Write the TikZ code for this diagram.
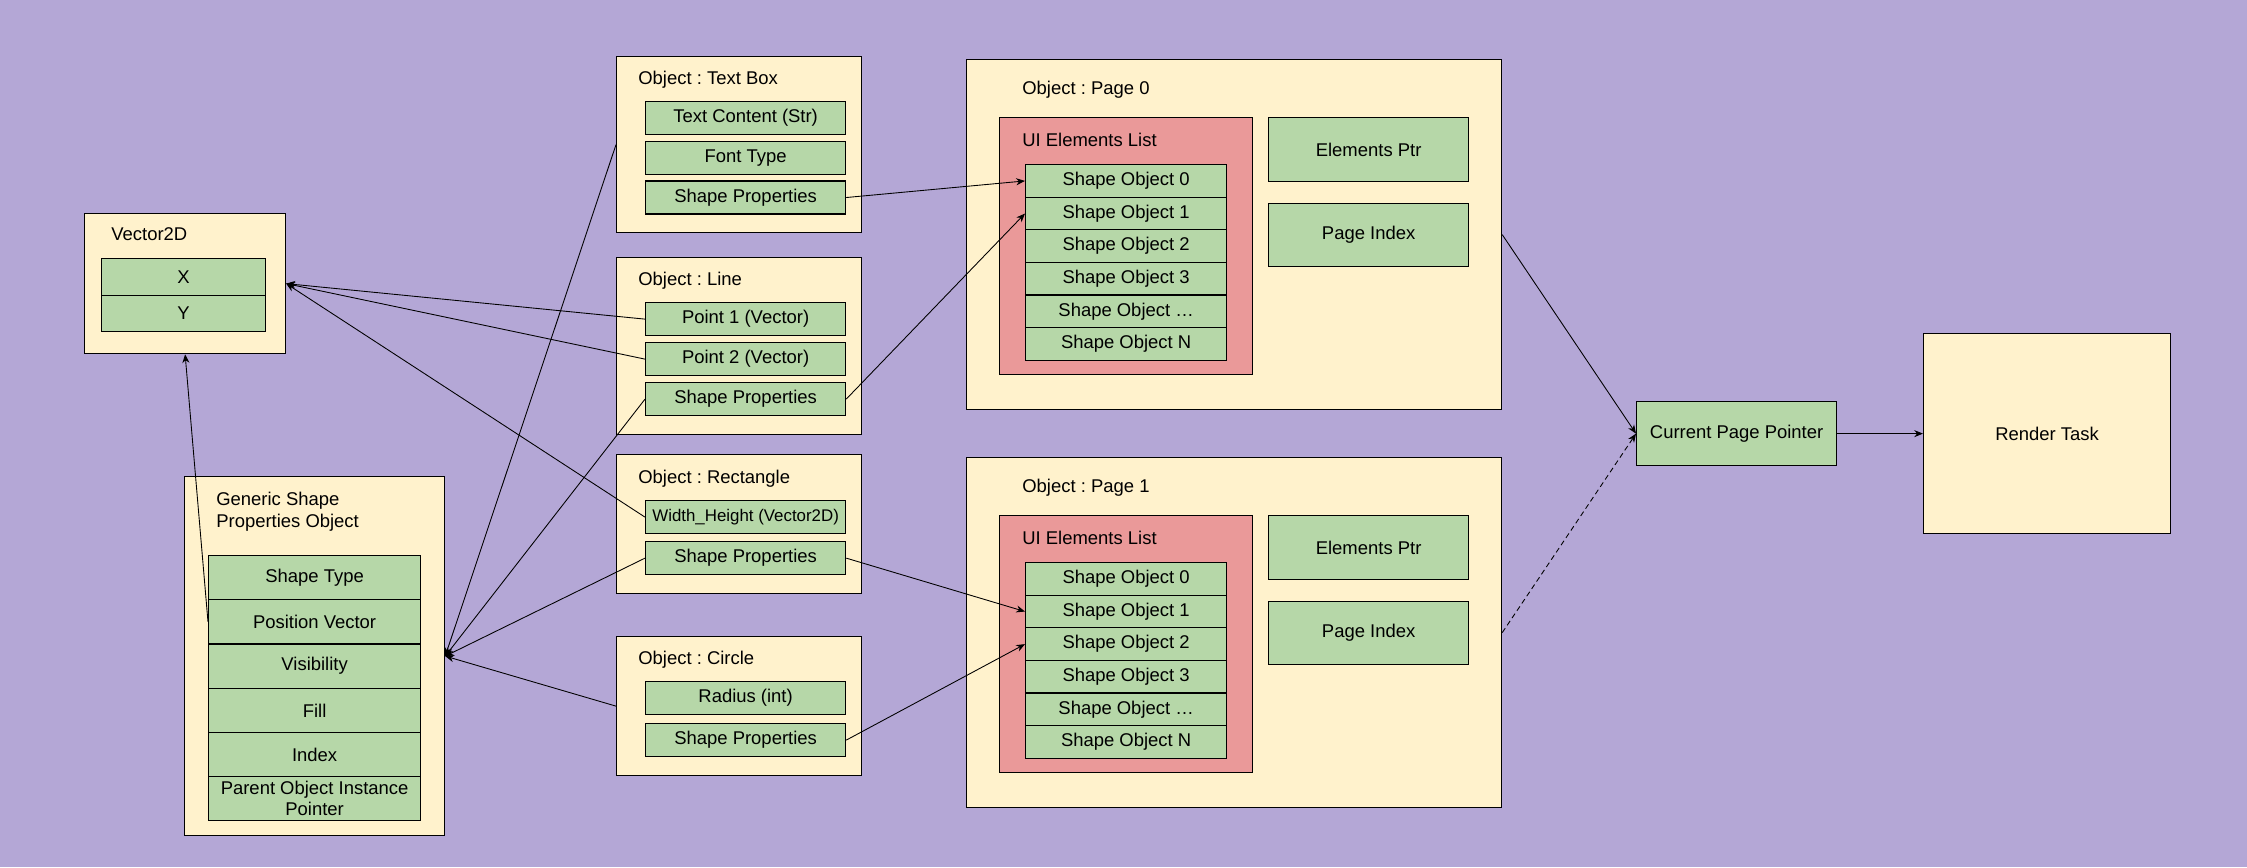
\documentclass[tikz,border=0pt]{standalone}
\usepackage{fontspec}
\setmainfont{Liberation Sans}
\usetikzlibrary{arrows.meta}
\frenchspacing

\definecolor{bgpurple}{HTML}{B4A7D6}
\definecolor{boxyellow}{HTML}{FFF2CC}
\definecolor{fieldgreen}{HTML}{B6D7A8}
\definecolor{listred}{HTML}{EA9999}

\tikzset{
  sz/.style 2 args={minimum width=#1*0.02cm, minimum height=#2*0.02cm},
  holder/.style={draw, fill=boxyellow, line width=0.7pt, inner sep=0pt, anchor=north west},
  listbox/.style={draw, fill=listred, line width=0.7pt, inner sep=0pt, anchor=north west},
  field/.style={draw, fill=fieldgreen, line width=0.7pt, inner sep=0pt, anchor=north west, align=center},
  title/.style={anchor=west, inner sep=0pt},
  link/.style={line width=0.5pt, -{Stealth[length=5pt,width=4pt]}},
}

\begin{document}
\begin{tikzpicture}[x=0.02cm, y=-0.02cm, font=\fontsize{10.5}{12}\selectfont]
    \useasboundingbox (0,0) rectangle (2247,867);
    \fill[bgpurple] (0,0) rectangle (2247,867);

    % Vector2D
    \node[holder, sz={201}{140}] (vector) at (84,213) {};
    \node[title] (vectortitle) at (111,234) {Vector2D};
    \node[field, sz={164}{36.5}] (vx) at (101,258) {X};
    \node[field, sz={164}{36.5}] (vy) at (101,294.5) {Y};

    % Generic shape properties
    \node[holder, sz={260}{359}] (generic) at (184,476) {};
    \node[title, align=left, font=\fontsize{10.5}{12.5}\selectfont] (generictitle) at (216,512) {Generic Shape\\Properties Object};
    \foreach \i/\txt in {0/Shape Type,1/Position Vector,2/Visibility,3/Fill,4/Index,5/{Parent Object Instance\\Pointer}} {
        \node[field, sz={212}{44.2}] (gs\i) at (208,555+\i*44.2) {\txt};
    }

    % Text box
    \node[holder, sz={245}{176}] (textbox) at (616,56) {};
    \node[title] (textboxtitle) at (638,80) {Object : Text Box};
    \foreach \i/\txt in {0/Text Content (Str),1/Font Type,2/Shape Properties} {
        \node[field, sz={200}{33}] (tb\i) at (645,101+\i*39.7) {\txt};
    }

    % Line
    \node[holder, sz={245}{177}] (lineobj) at (616,257) {};
    \node[title] (linetitle) at (638,281) {Object : Line};
    \foreach \i/\txt in {0/Point 1 (Vector),1/Point 2 (Vector),2/Shape Properties} {
        \node[field, sz={200}{33}] (ln\i) at (645,302+\i*40) {\txt};
    }

    % Rectangle
    \node[holder, sz={245}{139}] (rectobj) at (616,454) {};
    \node[title] (recttitle) at (638,479) {Object : Rectangle};
    \node[field, sz={200}{33}, font=\fontsize{9.6}{11}\selectfont] (rc0) at (645,500) {Width\_Height (Vector2D)};
    \node[field, sz={200}{33}] (rc1) at (645,541) {Shape Properties};

    % Circle
    \node[holder, sz={245}{139}] (circleobj) at (616,636) {};
    \node[title] (circletitle) at (638,660) {Object : Circle};
    \node[field, sz={200}{33}] (ci0) at (645,681) {Radius (int)};
    \node[field, sz={200}{33}] (ci1) at (645,723) {Shape Properties};

    % Pages
    \foreach \p/\y in {0/59,1/457} {
        \node[holder, sz={535}{350}] (page\p) at (966,\y) {};
        \node[title] (pagetitle\p) at (1022,\y+31) {Object : Page \p};
        \node[listbox, sz={253}{257}] (list\p) at (999,\y+58) {};
        \node[title] (listtitle\p) at (1022,\y+81) {UI Elements List};
        \foreach \i/\t in {0/0,1/1,2/2,3/3,4/…,5/N} {
            \node[field, sz={201}{32.6}] (so\p-\i) at (1025,\y+105+\i*32.6) {Shape Object \t};
        }
        \node[field, sz={200}{64}] (eptr\p) at (1268,\y+58) {Elements Ptr};
        \node[field, sz={200}{63}] (pidx\p) at (1268,\y+144) {Page Index};
    }

    % Pointer and render task
    \node[field, sz={200}{64}] (curptr) at (1636,401) {Current Page Pointer};
    \node[holder, sz={247}{200}, align=center] (render) at (1923,333) {Render Task};

    % Links to the page lists
    \draw[link] (tb2.east) -- (so0-0.west);
    \draw[link] (ln2.east) -- (so0-1.west);
    \draw[link] (rc1.east) -- (so1-1.west);
    \draw[link] (ci1.east) -- (so1-2.west);

    % Links to Vector2D
    \draw[link] (ln0.west) -- (vector.east);
    \draw[link] (ln1.west) -- (vector.east);
    \draw[link] (rc0.west) -- (vector.east);
    \draw[link] (gs1.west) -- (vector.south);

    % Links to generic shape properties
    \draw[link] (textbox.west) -- (generic.east);
    \draw[link] (ln2.west) -- (generic.east);
    \draw[link] (rc1.west) -- (generic.east);
    \draw[link] (circleobj.west) -- (generic.east);

    % Current page
    \draw[link] (page0.east) -- (curptr.west);
    \draw[link, dash pattern=on 3pt off 2pt] (page1.east) -- (curptr.west);
    \draw[link] (curptr.east) -- (render.west);
\end{tikzpicture}
\end{document}
